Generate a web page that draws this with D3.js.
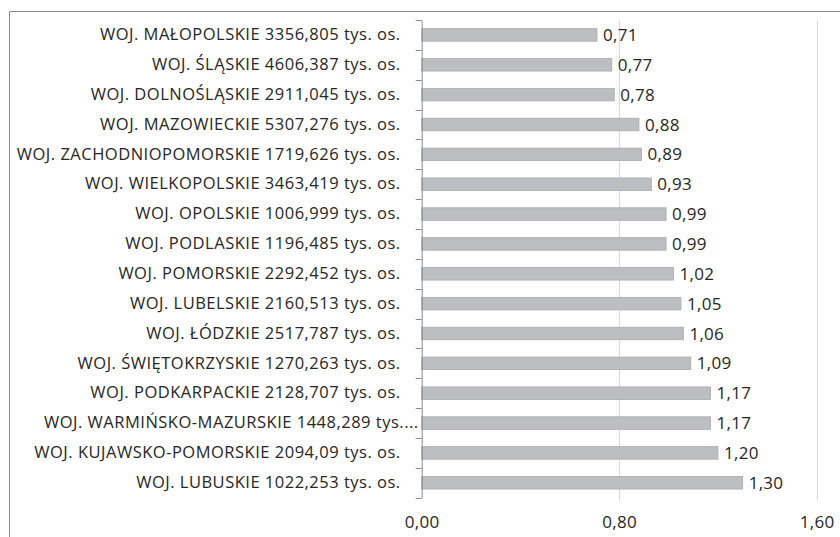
<!DOCTYPE html>
<html>
<head>
<meta charset="utf-8">
<script src="https://cdn.jsdelivr.net/npm/d3@7"></script>
<style>
  html, body { margin: 0; padding: 0; background: #fff; }
  svg { display: block; }
  text { font-family: "Open Sans", "Noto Sans", sans-serif; fill: #262626; }
</style>
</head>
<body>
<svg id="chart" width="840" height="537"></svg>
<script>
// Regions (voivodeships) with population, top to bottom
const categories = [
  "WOJ. MAŁOPOLSKIE 3356,805 tys. os.",
  "WOJ. ŚLĄSKIE 4606,387 tys. os.",
  "WOJ. DOLNOŚLĄSKIE 2911,045 tys. os.",
  "WOJ. MAZOWIECKIE 5307,276 tys. os.",
  "WOJ. ZACHODNIOPOMORSKIE 1719,626 tys. os.",
  "WOJ. WIELKOPOLSKIE 3463,419 tys. os.",
  "WOJ. OPOLSKIE 1006,999 tys. os.",
  "WOJ. PODLASKIE 1196,485 tys. os.",
  "WOJ. POMORSKIE 2292,452 tys. os.",
  "WOJ. LUBELSKIE 2160,513 tys. os.",
  "WOJ. ŁÓDZKIE 2517,787 tys. os.",
  "WOJ. ŚWIĘTOKRZYSKIE 1270,263 tys. os.",
  "WOJ. PODKARPACKIE 2128,707 tys. os.",
  "WOJ. WARMIŃSKO-MAZURSKIE 1448,289 tys....",
  "WOJ. KUJAWSKO-POMORSKIE 2094,09 tys. os.",
  "WOJ. LUBUSKIE 1022,253 tys. os."
];
const values = [0.71, 0.77, 0.78, 0.88, 0.89, 0.93, 0.99, 0.99, 1.02, 1.05, 1.06, 1.09, 1.17, 1.17, 1.20, 1.30];
const xTicks = [0, 0.8, 1.6];

const fmt = d => d.toFixed(2).replace(".", ",");

const svg = d3.select("#chart");
const plot = { left: 421.7, right: 816.7, top: 20, bottom: 497.7 };

// Outer frame
svg.append("path")
  .attr("d", `M9.5,545 V11.5 H850`)
  .attr("fill", "none")
  .attr("stroke", "#8c8c8c")
  .attr("stroke-width", 1);

const x = d3.scaleLinear().domain([0, 1.6]).range([plot.left, plot.right]);
const y = d3.scaleBand().domain(categories).range([plot.top, plot.bottom]).paddingInner(0.58).paddingOuter(0.29);

// Vertical gridlines
svg.append("g")
  .selectAll("line")
  .data(xTicks.filter(d => d > 0))
  .join("line")
  .attr("x1", d => Math.round(x(d)) + 0.5)
  .attr("x2", d => Math.round(x(d)) + 0.5)
  .attr("y1", plot.top)
  .attr("y2", plot.bottom + 3)
  .attr("stroke", "#d9d9d9")
  .attr("stroke-width", 1);

// Bars
svg.append("g")
  .selectAll("rect")
  .data(values)
  .join("rect")
  .attr("x", x(0))
  .attr("y", (d, i) => y(categories[i]))
  .attr("width", d => x(d) - x(0))
  .attr("height", y.bandwidth())
  .attr("fill", "#bdbec1")
  .attr("stroke", "#a9aaad")
  .attr("stroke-width", 0.8);

// Value labels
svg.append("g")
  .selectAll("text")
  .data(values)
  .join("text")
  .attr("x", d => x(d) + 6)
  .attr("y", (d, i) => y(categories[i]) + y.bandwidth() / 2)
  .attr("dy", "0.36em")
  .attr("font-size", 17)
  .attr("letter-spacing", 0.3)
  .text(d => fmt(d));

// Category axis
const yAxis = svg.append("g")
  .attr("transform", `translate(${plot.left},0)`)
  .call(d3.axisLeft(y).tickSize(0).tickPadding(21));
yAxis.select(".domain").attr("stroke", "#8c8c8c");
yAxis.selectAll("text")
  .attr("font-size", 16.5)
  .attr("letter-spacing", 0.5)
  .attr("fill", "#262626")
  .attr("font-family", "\"Open Sans\", sans-serif")
  .attr("dx", d => d.endsWith("....") ? 18 : 0);

// Tick marks at band boundaries
const step = y.step();
svg.append("g")
  .selectAll("line")
  .data(d3.range(categories.length + 1))
  .join("line")
  .attr("x1", plot.left - 6)
  .attr("x2", plot.left)
  .attr("y1", i => Math.round(plot.top + i * step) + 0.5)
  .attr("y2", i => Math.round(plot.top + i * step) + 0.5)
  .attr("stroke", "#8c8c8c");

// Value axis labels
const xAxis = svg.append("g")
  .attr("transform", `translate(0,${plot.bottom})`)
  .call(d3.axisBottom(x).tickValues(xTicks).tickFormat(fmt).tickSize(0).tickPadding(18));
xAxis.select(".domain").remove();
xAxis.selectAll("text")
  .attr("font-size", 17)
  .attr("letter-spacing", 0.3)
  .attr("fill", "#262626")
  .attr("font-family", "\"Open Sans\", sans-serif");
</script>
</body>
</html>
